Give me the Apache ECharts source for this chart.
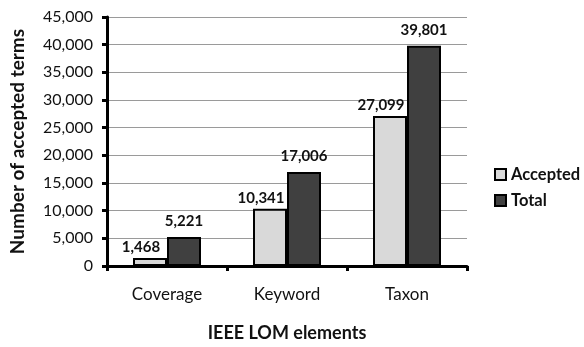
<!DOCTYPE html>
<html>
<head>
<meta charset="utf-8">
<script src="https://cdn.jsdelivr.net/npm/echarts@6/dist/echarts.min.js"></script>
<style>
  html, body { margin: 0; padding: 0; background: #fff; }
  #chart { width: 584px; height: 347px; }
</style>
</head>
<body>
<div id="chart"></div>
<script>
// IEEE LOM elements and term counts
const categories = ['Coverage', 'Keyword', 'Taxon'];
const acceptedTerms = [1468, 10341, 27099];
const totalTerms = [5221, 17006, 39801];
const seriesNames = ['Accepted', 'Total'];

const FONT = 'Lato';
const INK = '#111';
const fmt = v => v.toLocaleString('en-US');

const chart = echarts.init(document.getElementById('chart'), null, { renderer: 'canvas' });

chart.setOption({
  animation: false,
  backgroundColor: '#ffffff',
  textStyle: { fontFamily: FONT, color: INK },
  grid: { left: 105, right: 117, top: 17, bottom: 74, containLabel: false },
  legend: {
    orient: 'vertical',
    left: 489,
    top: 161,
    itemWidth: 11,
    itemHeight: 11,
    itemGap: 9,
    icon: 'rect',
    textStyle: { fontFamily: FONT, fontSize: 16.5, fontWeight: 'bold', color: INK },
    data: seriesNames
  },
  xAxis: {
    type: 'category',
    data: categories,
    name: 'IEEE LOM elements',
    nameLocation: 'middle',
    nameGap: 58,
    nameTextStyle: { fontFamily: FONT, fontSize: 18, fontWeight: 'bold', color: INK },
    axisLine: { lineStyle: { color: '#000', width: 3 } },
    axisTick: { show: true, length: 5, lineStyle: { color: '#000', width: 3 } },
    axisLabel: { fontFamily: FONT, fontSize: 17, color: INK, margin: 20 }
  },
  yAxis: {
    type: 'value',
    min: 0,
    max: 45000,
    interval: 5000,
    name: 'Number of accepted terms',
    nameLocation: 'middle',
    nameGap: 80,
    nameTextStyle: { fontFamily: FONT, fontSize: 19, fontWeight: 'bold', color: INK },
    axisLine: { show: true, lineStyle: { color: '#000', width: 3 } },
    axisTick: { show: true, length: 5, lineStyle: { color: '#000', width: 3 } },
    axisLabel: { fontFamily: FONT, fontSize: 16, color: INK, margin: 14, formatter: fmt },
    splitLine: { lineStyle: { color: '#9a9a9a', width: 1 } }
  },
  series: [
    {
      name: seriesNames[0],
      type: 'bar',
      data: acceptedTerms,
      barWidth: 34,
      barGap: '0%',
      itemStyle: { color: '#d9d9d9', borderColor: '#000', borderWidth: 2 },
      label: {
        show: true, position: 'top', distance: 3, offset: [-9, 0],
        fontFamily: FONT, fontSize: 15, fontWeight: 'bold', color: INK,
        formatter: p => fmt(p.value)
      }
    },
    {
      name: seriesNames[1],
      type: 'bar',
      data: totalTerms,
      barWidth: 34,
      barGap: '0%',
      itemStyle: { color: '#404040', borderColor: '#000', borderWidth: 2 },
      label: {
        show: true, position: 'top', distance: 8,
        fontFamily: FONT, fontSize: 15, fontWeight: 'bold', color: INK,
        formatter: p => fmt(p.value)
      }
    }
  ]
});
</script>
</body>
</html>
